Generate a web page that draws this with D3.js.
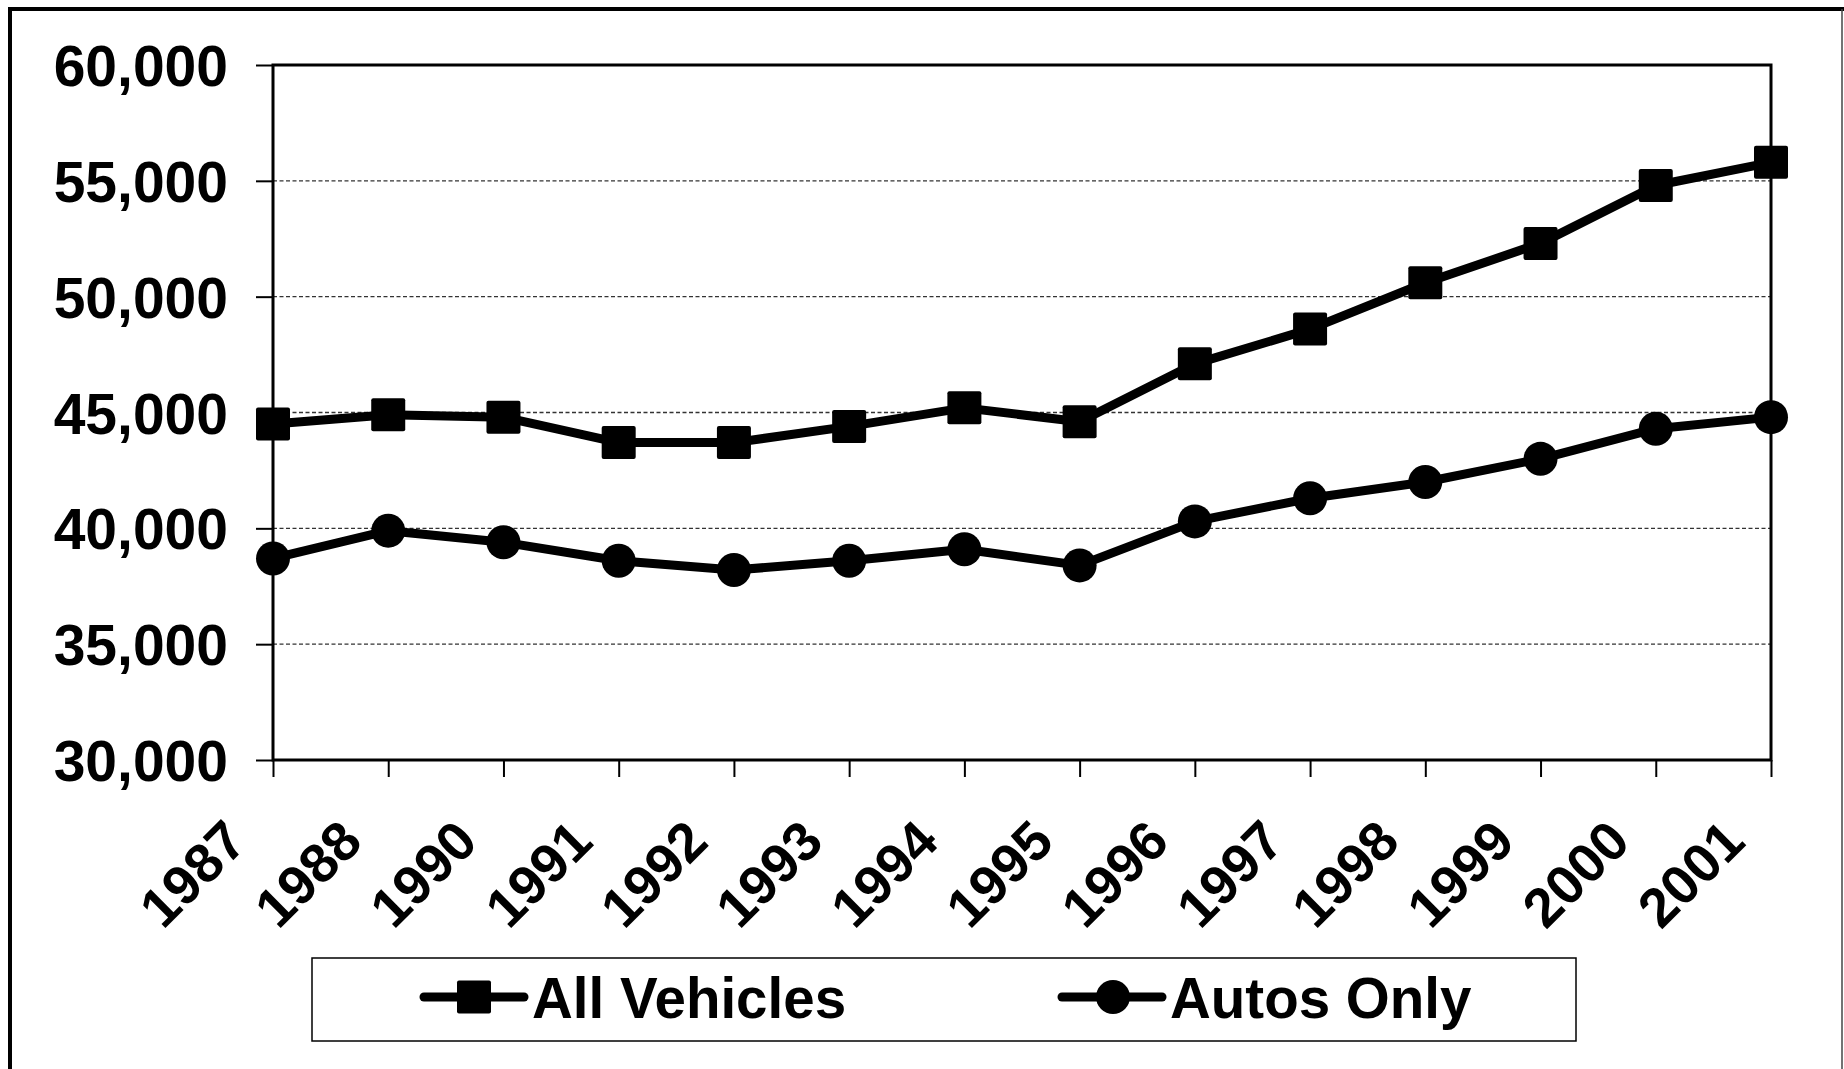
<!DOCTYPE html>
<html lang="en">
  <head>
    <meta charset="utf-8" />
    <script src="https://d3js.org/d3.v7.min.js"></script>
    <style>
      body {
        margin: 0;
        background-color: #fff;
      }
      svg {
        display: block;
        font-family: "Liberation Sans", Arial, sans-serif;
        font-weight: bold;
      }
      .grid line {
        stroke: #333;
        stroke-width: 1.4px;
        stroke-dasharray: 4 2.5;
      }
      .axis text {
        font-size: 57px;
        fill: #000;
      }
      .axis line {
        stroke: #000;
        stroke-width: 2px;
      }
    </style>
  </head>
  <body>
    <div id="chart"></div>

    <script>
      const years = ["1987", "1988", "1990", "1991", "1992", "1993", "1994",
        "1995", "1996", "1997", "1998", "1999", "2000", "2001"];
      const allVehicles = [44500, 44900, 44800, 43700, 43700, 44400, 45200,
        44600, 47100, 48600, 50600, 52300, 54800, 55800];
      const autosOnly = [38700, 39900, 39400, 38600, 38200, 38600, 39100,
        38400, 40300, 41300, 42000, 43000, 44300, 44800];
      const yTicks = [30000, 35000, 40000, 45000, 50000, 55000, 60000];
      const seriesNames = ["All Vehicles", "Autos Only"];

      const width = 1844;
      const height = 1069;
      const plot = { left: 273, right: 1771, top: 65, bottom: 760 };

      const svg = d3
        .select("#chart")
        .append("svg")
        .attr("width", width)
        .attr("height", height);

      // page frame: thick left and top, thin right, no bottom
      svg.append("path")
        .attr("d", `M10,${height} V9 H${width}`)
        .attr("fill", "none")
        .attr("stroke", "#000")
        .attr("stroke-width", 4);
      svg.append("line")
        .attr("x1", 1842)
        .attr("x2", 1842)
        .attr("y1", 9)
        .attr("y2", height)
        .attr("stroke", "#444")
        .attr("stroke-width", 1.5);

      const x = d3.scalePoint().domain(years).range([plot.left, plot.right]);
      const y = d3.scaleLinear().domain([30000, 60000]).range([plot.bottom, plot.top]);

      // dashed grid
      svg.append("g")
        .attr("class", "grid")
        .selectAll("line")
        .data(yTicks.filter((d) => d > 30000 && d < 60000))
        .join("line")
        .attr("x1", plot.left)
        .attr("x2", plot.right)
        .attr("y1", (d) => y(d))
        .attr("y2", (d) => y(d));

      // plot border
      svg.append("rect")
        .attr("x", plot.left)
        .attr("y", plot.top)
        .attr("width", plot.right - plot.left)
        .attr("height", plot.bottom - plot.top)
        .attr("fill", "none")
        .attr("stroke", "#000")
        .attr("stroke-width", 3);

      const yAxis = svg.append("g")
        .attr("class", "axis")
        .attr("transform", `translate(${plot.left},0)`)
        .call(d3.axisLeft(y).tickValues(yTicks).tickSize(17).tickPadding(28)
          .tickFormat(d3.format(",")));
      yAxis.select(".domain").remove();
      yAxis.selectAll("text").attr("dy", "0.36em");

      const xAxis = svg.append("g")
        .attr("class", "axis")
        .attr("transform", `translate(0,${plot.bottom})`)
        .call(d3.axisBottom(x).tickSize(17));
      xAxis.select(".domain").remove();
      xAxis.selectAll("text")
        .attr("text-anchor", "end")
        .attr("y", 0)
        .attr("dy", 0)
        .style("font-size", "55px")
        .attr("transform", "translate(-24,84) rotate(-45)");

      const line = d3.line()
        .x((d, i) => x(years[i]))
        .y((d) => y(d));

      function drawSeries(values, shape) {
        svg.append("path")
          .datum(values)
          .attr("fill", "none")
          .attr("stroke", "#000")
          .attr("stroke-width", 9)
          .attr("stroke-linejoin", "round")
          .attr("d", line);

        const g = svg.append("g");
        if (shape === "square") {
          g.selectAll("rect")
            .data(values)
            .join("rect")
            .attr("x", (d, i) => x(years[i]) - 17)
            .attr("y", (d) => y(d) - 16.5)
            .attr("width", 34)
            .attr("height", 33)
            .attr("rx", 2)
            .attr("fill", "#000");
        } else {
          g.selectAll("circle")
            .data(values)
            .join("circle")
            .attr("cx", (d, i) => x(years[i]))
            .attr("cy", (d) => y(d))
            .attr("r", 17)
            .attr("fill", "#000");
        }
      }

      drawSeries(allVehicles, "square");
      drawSeries(autosOnly, "circle");

      // legend
      const legend = svg.append("g");
      legend.append("rect")
        .attr("x", 312)
        .attr("y", 958)
        .attr("width", 1264)
        .attr("height", 83)
        .attr("fill", "none")
        .attr("stroke", "#000")
        .attr("stroke-width", 1.5);

      const legendItems = [
        { name: seriesNames[0], shape: "square", x0: 424 },
        { name: seriesNames[1], shape: "circle", x0: 1062 }
      ];
      const ly = 997;
      legendItems.forEach((it) => {
        legend.append("line")
          .attr("x1", it.x0)
          .attr("x2", it.x0 + 100)
          .attr("y1", ly)
          .attr("y2", ly)
          .attr("stroke", "#000")
          .attr("stroke-width", 9)
          .attr("stroke-linecap", "round");
        if (it.shape === "square") {
          legend.append("rect")
            .attr("x", it.x0 + 50 - 17)
            .attr("y", ly - 16.5)
            .attr("width", 34)
            .attr("height", 33)
            .attr("rx", 2)
            .attr("fill", "#000");
        } else {
          legend.append("circle")
            .attr("cx", it.x0 + 51)
            .attr("cy", ly)
            .attr("r", 17)
            .attr("fill", "#000");
        }
        legend.append("text")
          .attr("x", it.x0 + 108)
          .attr("y", ly + 21)
          .attr("font-size", 56.5)
          .text(it.name);
      });
    </script>
  </body>
</html>
